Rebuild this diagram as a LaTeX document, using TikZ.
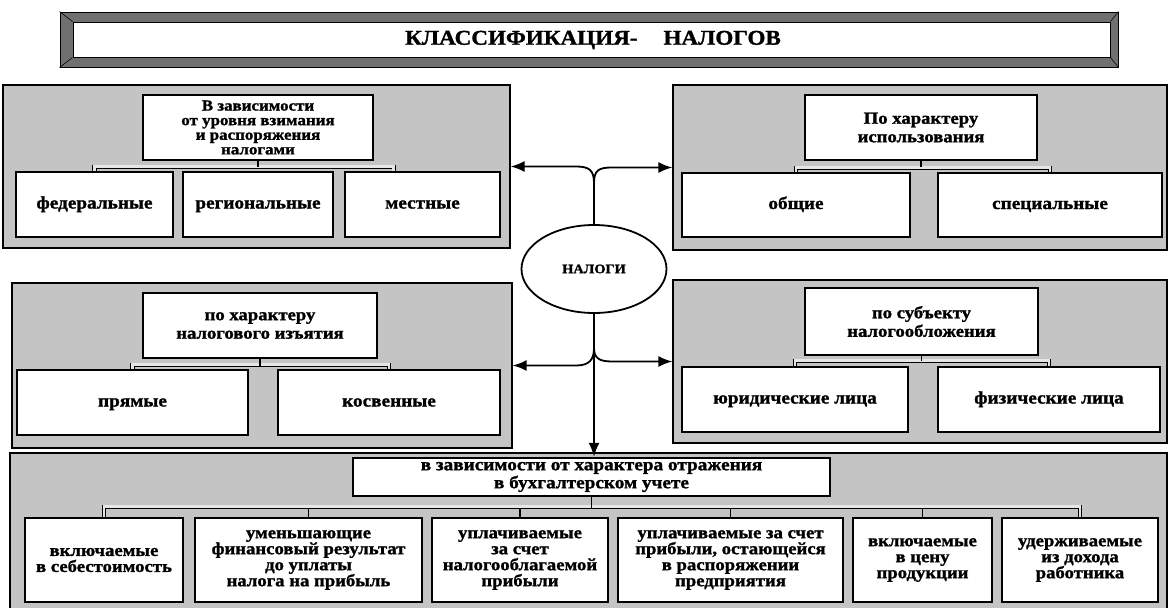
\documentclass[tikz,border=0pt]{standalone}
\usepackage{fontspec}
\setmainfont{Liberation Serif}[FakeStretch=1.1, BoldFeatures={FakeBold=1.3}]
\usetikzlibrary{arrows.meta,shapes.geometric,calc}
\definecolor{panelgray}{HTML}{C4C4C4}
\definecolor{framegray}{HTML}{707070}
\definecolor{barfill}{HTML}{E6E6E6}
\begin{document}
\begin{tikzpicture}[x=1pt,y=-1pt,
  panel/.style={draw=black, line width=1.2pt, fill=panelgray, inner sep=0pt},
  wbox/.style={draw=black, line width=2.4pt, fill=white, align=center, inner sep=1pt,
    font=\bfseries\fontsize{17.5}{18.5}\selectfont},
  single/.style={wbox, text height=8pt, text depth=0pt},
  hdr/.style={wbox, font=\bfseries\fontsize{17}{18.5}\selectfont},
  smallhdr/.style={wbox, font=\bfseries\fontsize{15.4}{14.6}\selectfont},
  lowbox/.style={wbox, font=\bfseries\fontsize{17}{16}\selectfont},
  barline/.style={double=barfill, double distance=2.8pt, line width=0.9pt},
  stub/.style={line width=1.5pt},
  conn/.style={line width=1.8pt},
  arr/.style={conn, -{Latex[length=14pt,width=11pt]}}]
\useasboundingbox (0,0) rectangle (1168,608);
\clip (0,0) rectangle (1168,608);
\fill[white] (0,0) rectangle (1168,608);

% title
\node[draw=black, line width=1pt, fill=framegray, minimum width=1058, minimum height=55, inner sep=0pt] (tf) at (589,39.5) {};
\node[draw=black, line width=1pt, fill=white, minimum width=1037, minimum height=35, inner sep=0pt] (ti) at (591.5,39.5) {};
\draw[line width=0.6pt] (tf.north west) -- (ti.north west) (tf.south west) -- (ti.south west)
  (tf.north east) -- (ti.north east) (tf.south east) -- (ti.south east);
\node[font=\bfseries\fontsize{21}{22}\selectfont] (title) at (593,40) {КЛАССИФИКАЦИЯ-\hspace{26pt}НАЛОГОВ};

% panels
\node[panel, minimum width=507, minimum height=163] (P1) at (256.5,166.5) {};
\node[panel, minimum width=494, minimum height=165] (P2) at (920,167.5) {};
\node[panel, minimum width=500, minimum height=165] (P3) at (262,365.5) {};
\node[panel, minimum width=494, minimum height=163] (P4) at (920,361.5) {};
\node[panel, minimum width=1157, minimum height=167] (P5) at (588.5,536.5) {};

% top-left
\node[smallhdr, minimum width=230, minimum height=65] (H1) at (258,127.5)
  {В зависимости\\от уровня взимания\\и распоряжения\\налогами};
\node[single, minimum width=157, minimum height=65] (c11) at (94.5,204.5) {федеральные};
\node[single, minimum width=150, minimum height=65] (c12) at (258,204.5) {региональные};
\node[single, minimum width=155, minimum height=65] (c13) at (422.5,204.5) {местные};
\coordinate (c13j) at ($(c13.north west)+(50,0)$);
\draw[barline] (c11.north) -- ++(0,-4) -| (c13j);
\draw[stub] (H1.south) -- ++(0,6);

% top-right
\node[hdr, minimum width=232, minimum height=65] (H2) at (921,127.5) {По характеру\\использования};
\node[single, minimum width=228, minimum height=64] (c21) at (796,205) {общие};
\node[single, minimum width=224, minimum height=64] (c22) at (1050,205) {специальные};
\draw[barline] (c21.north) -- ++(0,-4) -| (c22.north);
\draw[stub] (H2.south) -- ++(0,6);

% middle-left
\node[hdr, minimum width=234, minimum height=65] (H3) at (260,325.5) {по характеру\\налогового изъятия};
\node[single, minimum width=231, minimum height=65] (c31) at (132.5,402.5) {прямые};
\node[single, minimum width=222, minimum height=65] (c32) at (389,402.5) {косвенные};
\draw[barline] (c31.north) -- ++(0,-4) -| (c32.north);
\draw[stub] (H3.south) -- ++(0,7);

% middle-right
\node[hdr, minimum width=233, minimum height=67] (H4) at (921.5,321.5) {по субъекту\\налогообложения};
\node[single, minimum width=226, minimum height=65] (c41) at (795,399.5) {юридические лица};
\node[single, minimum width=222, minimum height=65] (c42) at (1049,399.5) {физические лица};
\draw[barline] (c41.north) -- ++(0,-5) -| (c42.north);
\draw[stub] (H4.south) -- ++(0,5);

% bottom
\node[hdr, minimum width=477, minimum height=38, font=\bfseries\fontsize{17.5}{18}\selectfont] (H5) at (591.5,477) {в зависимости от характера отражения\\в бухгалтерском учете};
\node[lowbox, minimum width=158, minimum height=84] (b1) at (104,560) {включаемые\\в себестоимость};
\node[lowbox, minimum width=227, minimum height=84] (b2) at (308.5,560) {уменьшающие\\финансовый результат\\до уплаты\\налога на прибыль};
\node[lowbox, minimum width=176, minimum height=84] (b3) at (520,560) {уплачиваемые\\за счет\\налогооблагаемой\\прибыли};
\node[lowbox, minimum width=225, minimum height=84] (b4) at (730.5,560) {уплачиваемые за счет\\прибыли, остающейся\\в распоряжении\\предприятия};
\node[lowbox, minimum width=139, minimum height=84] (b5) at (922.5,560) {включаемые\\в цену\\продукции};
\node[lowbox, minimum width=156, minimum height=84] (b6) at (1080,560) {удерживаемые\\из дохода\\работника};
\draw[barline] (b1.north) -- ++(0,-10) -| (b6.north);
\foreach \b in {b2,b3,b4,b5} \draw[stub] (\b.north) -- ++(0,-8);
\draw[stub] (H5.south) -- ++(0,11);

% centre
\node[ellipse, draw=black, line width=1.8pt, fill=white, minimum width=145, minimum height=88, inner sep=0pt,
  font=\bfseries\fontsize{13}{14}\selectfont] (E) at (594,269) {НАЛОГИ};
\coordinate (jU) at (594,183);
\coordinate (jL) at (594,348);
\draw[conn] (E.north) -- (jU);
\draw[arr] (jU) .. controls (594,170) and (589,166.5) .. (576,166.5) -- (P1.east);
\draw[arr] (jU) .. controls (594,170) and (599,167.5) .. (612,167.5) -- (P2.west);
\draw[arr] (E.south) -- (H5.north -| E.south);
\draw[arr] (jL) .. controls (594,360) and (589,365.5) .. (576,365.5) -- (P3.east);
\draw[arr] (jL) .. controls (594,358) and (599,361.5) .. (612,361.5) -- (P4.west);
\end{tikzpicture}
\end{document}
